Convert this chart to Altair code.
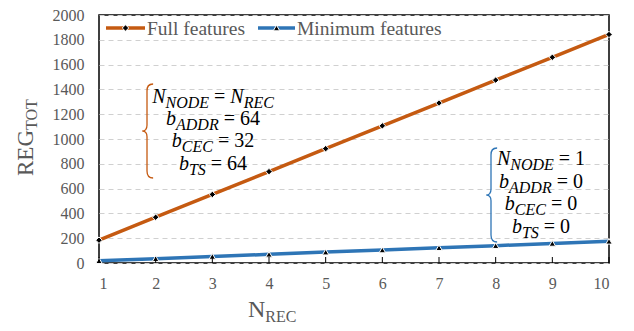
import altair as alt
import pandas as pd

# ---------------- data ----------------
n_rec = [1, 2, 3, 4, 5, 6, 7, 8, 9, 10]
full_features = [184, 369, 553, 737, 922, 1106, 1290, 1475, 1659, 1843]
min_features = [18, 35, 53, 70, 88, 105, 123, 140, 158, 175]
y_ticks = [0, 200, 400, 600, 800, 1000, 1200, 1400, 1600, 1800, 2000]
series_names = ["Full features", "Minimum features"]
series_colors = ["#C55A11", "#2E75B6"]
marker_shapes = ["diamond", "triangle-up"]

# annotation text: (text, kind)  M = italic main, S = italic subscript, R = upright
orange_lines = [
    [("N", "M"), ("NODE", "S"), ("=", "R"), ("N", "M"), ("REC", "S")],
    [("b", "M"), ("ADDR", "S"), ("=", "R"), ("64", "R")],
    [("b", "M"), ("CEC", "S"), ("=", "R"), ("32", "R")],
    [("b", "M"), ("TS", "S"), ("=", "R"), ("64", "R")],
]
blue_lines = [
    [("N", "M"), ("NODE", "S"), ("=", "R"), ("1", "R")],
    [("b", "M"), ("ADDR", "S"), ("=", "R"), ("0", "R")],
    [("b", "M"), ("CEC", "S"), ("=", "R"), ("0", "R")],
    [("b", "M"), ("TS", "S"), ("=", "R"), ("0", "R")],
]

# plot area: left 99, top 15 in page pixels (8px page margin)
OX, OY = 99, 15
PAD_L, PAD_T = OX - 8, OY - 8
W, H = 510, 248
FONT = "Liberation Serif"
GRAY = "#595959"

# ---------------- helpers for text layout ----------------
IT = {"N": .667, "O": .722, "D": .722, "E": .611, "A": .611, "R": .611,
      "C": .667, "T": .556, "S": .5, "b": .5}
RG = {"=": .564, " ": .25, "R": .667, "E": .611, "G": .722, "T": .611,
      "O": .722, "C": .667, "N": .722}
for d in "0123456789":
    RG[d] = .5
MAIN, SUB, SUB_DY = 20, 16, 5


def piece_w(text, kind):
    size = SUB if kind == "S" else MAIN
    table = RG if kind == "R" else IT
    w = sum(table.get(c, .5) for c in text) * size
    if text == "=":
        w += 2 * 0.25 * MAIN
    return w


def layout(lines, cx, base0, step):
    rows = []
    for i, pieces in enumerate(lines):
        base = base0 + i * step
        total = sum(piece_w(t, k) for t, k in pieces)
        x = cx - total / 2
        for t, k in pieces:
            w = piece_w(t, k)
            xx = x + (0.25 * MAIN if t == "=" else 0)
            rows.append({
                "text": t, "x": xx - OX,
                "y": base + (SUB_DY if k == "S" else 0) - OY,
                "fs": SUB if k == "S" else MAIN,
                "style": "normal" if k == "R" else "italic",
            })
            x += w
    return rows


ann = pd.DataFrame(layout(orange_lines, 213, 103, 22.2) + layout(blue_lines, 541, 165, 22.7))

brace_path = ("M0.13,-1 C0.03,-1 0,-0.95 0,-0.85 L0,-0.12 C0,-0.04 -0.04,0 -0.1,0 "
              "C-0.04,0 0,0.04 0,0.12 L0,0.85 C0,0.95 0.03,1 0.13,1")
braces = pd.DataFrame({"x": [147 - OX, 491 - OX], "y": [131 - OY, 195 - OY],
                       "c": series_colors})

# ---------------- main data ----------------
df = pd.DataFrame({
    "n": n_rec * 2,
    "v": full_features + min_features,
    "s": [series_names[0]] * len(n_rec) + [series_names[1]] * len(n_rec),
})

x_enc = alt.X("n:Q", scale=alt.Scale(domain=[1, 10], nice=False, zero=False),
              axis=alt.Axis(values=n_rec, title=None, grid=False, ticks=False,
                            domain=False, labelPadding=12, format="d",
                            labelOverlap=False))
y_enc = alt.Y("v:Q", scale=alt.Scale(domain=[0, 2000], nice=False),
              axis=alt.Axis(values=y_ticks, title=None, grid=True, ticks=False,
                            domain=False, labelPadding=15, gridDash=[5, 4],
                            gridColor="#D0D0D0", gridWidth=1, format="d",
                            labelOverlap=False))
color_enc = alt.Color("s:N", scale=alt.Scale(domain=series_names, range=series_colors),
                      legend=None)

lines = alt.Chart(df).mark_line(strokeWidth=3.5).encode(x=x_enc, y=y_enc, color=color_enc)
points = alt.Chart(df).mark_point(filled=True, size=42, fill="black", stroke="white",
                                  strokeWidth=1, opacity=1).encode(
    x=x_enc, y=y_enc,
    shape=alt.Shape("s:N", scale=alt.Scale(domain=series_names, range=marker_shapes),
                    legend=None),
)

ticks = alt.Chart(pd.DataFrame({"n": n_rec})).mark_rule(color="black", strokeWidth=1).encode(
    x=x_enc, y=alt.value(H), y2=alt.value(H - 6))

# legend
leg = pd.DataFrame({
    "s": series_names,
    "x0": [106 - OX, 258 - OX], "x1": [145 - OX, 295 - OX],
    "xm": [125.5 - OX, 276.5 - OX], "xt": [147 - OX, 297 - OX],
    "y": [28 - OY, 28 - OY], "c": series_colors, "shape": marker_shapes,
})
leg_lines = alt.Chart(leg).mark_rule(strokeWidth=3.5).encode(
    x=alt.X("x0:Q", scale=None), x2="x1:Q", y=alt.Y("y:Q", scale=None),
    color=alt.Color("c:N", scale=None))
leg_pts = alt.Chart(leg).mark_point(filled=True, size=42, fill="black", stroke="white",
                                    strokeWidth=1, opacity=1).encode(
    x=alt.X("xm:Q", scale=None), y=alt.Y("y:Q", scale=None),
    shape=alt.Shape("shape:N", scale=None))
leg_text = alt.Chart(leg).mark_text(align="left", baseline="middle", font=FONT,
                                    fontSize=19.5, color=GRAY, dy=1).encode(
    x=alt.X("xt:Q", scale=None), y=alt.Y("y:Q", scale=None), text="s:N")

# annotations
ann_it = alt.Chart(ann).transform_filter(alt.datum.style == "italic").mark_text(
    align="left", baseline="alphabetic", font=FONT, fontStyle="italic", color="black").encode(
    x=alt.X("x:Q", scale=None), y=alt.Y("y:Q", scale=None),
    size=alt.Size("fs:Q", scale=None), text="text:N")
ann_rg = alt.Chart(ann).transform_filter(alt.datum.style == "normal").mark_text(
    align="left", baseline="alphabetic", font=FONT, color="black").encode(
    x=alt.X("x:Q", scale=None), y=alt.Y("y:Q", scale=None),
    size=alt.Size("fs:Q", scale=None), text="text:N")
brace = alt.Chart(braces).mark_point(shape=brace_path, size=94 * 94, filled=False,
                                     strokeWidth=1.3, opacity=1).encode(
    x=alt.X("x:Q", scale=None), y=alt.Y("y:Q", scale=None),
    stroke=alt.Stroke("c:N", scale=None))

# axis titles
ytitle = pd.DataFrame({"text": ["REG", "TOT"], "x": [33 - OX, 37 - OX],
                       "y": [176 - OY, 176 - 2.0 * 23 - OY], "fs": [23, 16]})
xtitle = pd.DataFrame({"text": ["N", "REC"], "x": [248 - OX, 248 + 0.722 * 24 - OX],
                       "y": [317 - OY, 322 - OY], "fs": [24, 16]})
yt = alt.Chart(ytitle).mark_text(align="left", baseline="alphabetic", angle=270,
                                 font=FONT, color=GRAY).encode(
    x=alt.X("x:Q", scale=None), y=alt.Y("y:Q", scale=None),
    size=alt.Size("fs:Q", scale=None), text="text:N")
xt = alt.Chart(xtitle).mark_text(align="left", baseline="alphabetic",
                                 font=FONT, color=GRAY).encode(
    x=alt.X("x:Q", scale=None), y=alt.Y("y:Q", scale=None),
    size=alt.Size("fs:Q", scale=None), text="text:N")

chart = alt.layer(lines, points, ticks, leg_lines, leg_pts, leg_text,
                  brace, ann_it, ann_rg, yt, xt).properties(
    width=W, height=H,
    autosize=alt.AutoSizeParams(type="none"),
    padding={"left": PAD_L, "top": PAD_T, "right": 15, "bottom": 66},
    background="white",
).configure_view(stroke="black", strokeWidth=1.5).configure_axis(
    labelFont=FONT, labelFontSize=16, labelColor=GRAY,
)

chart.save("out.html", embed_options={"renderer": "svg", "actions": False})
